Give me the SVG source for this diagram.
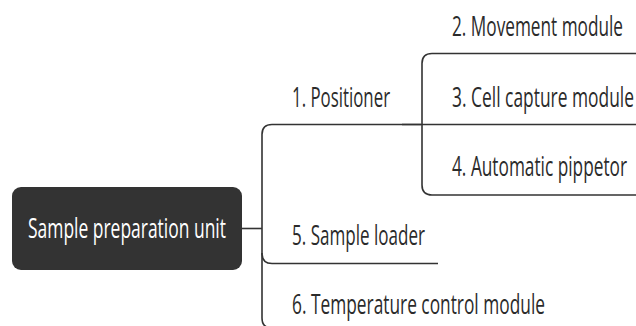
<svg xmlns="http://www.w3.org/2000/svg" width="636" height="326" viewBox="0 0 636 326">
  <style>
    .lbl { font-family: "Open Sans", "Noto Sans", sans-serif; font-size: 27px; fill: #2b2b2b; }
    .root { font-family: "Open Sans", "Noto Sans", sans-serif; font-size: 27px; fill: #ffffff; }
    .conn { fill: none; stroke: #333333; stroke-width: 1.6; }
  </style>
  <rect width="636" height="326" fill="#ffffff"/>

  <g id="connectors">
    <path class="conn" d="M242 228.5 H262"/>
    <path class="conn" d="M421 124.5 H272 Q262 124.5 262 134.5 V318 Q262 328 272 328 H560"/>
    <path class="conn" d="M262 253 Q262 263.5 272 263.5 H438"/>
    <path class="conn" d="M636 53.5 H432 Q422 53.5 422 63.5 V185 Q422 195 432 195 H636"/>
    <path class="conn" d="M402 124.5 H636"/>
  </g>

  <g id="root">
    <rect x="12" y="187" width="230" height="83" rx="9" fill="#333333"/>
    <text class="root" transform="translate(28 237.5) scale(0.65 1)" textLength="304.6" lengthAdjust="spacingAndGlyphs">Sample preparation unit</text>
  </g>
  <g id="n1">
    <text class="lbl" transform="translate(292 106.5) scale(0.65 1)" textLength="150.8" lengthAdjust="spacingAndGlyphs">1. Positioner</text>
  </g>
  <g id="n2">
    <text class="lbl" transform="translate(452 36) scale(0.65 1)" textLength="263.1" lengthAdjust="spacingAndGlyphs">2. Movement module</text>
  </g>
  <g id="n3">
    <text class="lbl" transform="translate(452 106.5) scale(0.65 1)" textLength="280" lengthAdjust="spacingAndGlyphs">3. Cell capture module</text>
  </g>
  <g id="n4">
    <text class="lbl" transform="translate(452 176) scale(0.65 1)" textLength="269.2" lengthAdjust="spacingAndGlyphs">4. Automatic pippetor</text>
  </g>
  <g id="n5">
    <text class="lbl" transform="translate(292 245) scale(0.65 1)" textLength="204.6" lengthAdjust="spacingAndGlyphs">5. Sample loader</text>
  </g>
  <g id="n6">
    <text class="lbl" transform="translate(292 314) scale(0.65 1)" textLength="389.2" lengthAdjust="spacingAndGlyphs">6. Temperature control module</text>
  </g>
</svg>
